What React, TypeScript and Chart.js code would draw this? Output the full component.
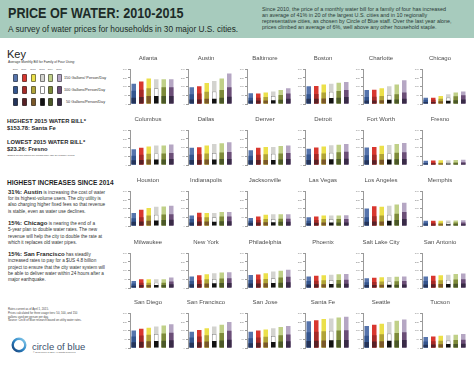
import React, { useEffect, useRef } from 'react';
import { Chart, registerables } from 'chart.js';
Chart.register(...registerables);

const FONT = '"Liberation Sans", Arial, Helvetica, sans-serif';

const YEARS = ['2010', '2011', '2012', '2013', '2014', '2015'];
const Y_TICKS = [0, 75, 150, 225, 300];

const CITIES = [
  'Atlanta', 'Austin', 'Baltimore', 'Boston', 'Charlotte', 'Chicago',
  'Columbus', 'Dallas', 'Denver', 'Detroit', 'Fort Worth', 'Fresno',
  'Houston', 'Indianapolis', 'Jacksonville', 'Las Vegas', 'Los Angeles', 'Memphis',
  'Milwaukee', 'New York', 'Philadelphia', 'Phoenix', 'Salt Lake City', 'San Antonio',
  'San Diego', 'San Francisco', 'San Jose', 'Santa Fe', 'Seattle', 'Tucson',
];

// Monthly bill (USD) at 150 gallons/person/day, 2010..2015
const BILL_150 = [
  [174, 195, 219, 213, 213, 213],
  [144, 153, 180, 198, 219, 264],
  [93, 90, 99, 108, 120, 135],
  [153, 156, 168, 174, 183, 189],
  [120, 123, 135, 153, 168, 204],
  [54, 54, 69, 84, 99, 108],
  [136, 148, 160, 168, 168, 176],
  [148, 152, 168, 180, 188, 196],
  [128, 148, 156, 156, 164, 168],
  [140, 150, 160, 170, 175, 180],
  [150, 155, 165, 172, 180, 190],
  [36, 38, 40, 42, 44, 46],
  [111, 141, 156, 165, 168, 174],
  [90, 114, 111, 111, 120, 120],
  [69, 81, 96, 102, 102, 102],
  [75, 81, 90, 90, 90, 93],
  [150, 171, 165, 174, 186, 201],
  [45, 45, 46, 48, 48, 50],
  [61, 75, 75, 75, 75, 90],
  [99, 110, 119, 128, 133, 136],
  [113, 116, 128, 142, 148, 157],
  [100, 105, 110, 115, 118, 120],
  [85, 88, 92, 95, 98, 100],
  [100, 105, 110, 115, 120, 125],
  [150, 165, 175, 185, 195, 205],
  [140, 155, 170, 185, 200, 225],
  [140, 150, 160, 170, 180, 190],
  [230, 240, 250, 255, 262, 270],
  [190, 200, 210, 225, 235, 245],
  [95, 100, 105, 110, 115, 120],
];

// Monthly bill (USD) at 100 gallons/person/day
const BILL_100 = [
  [114, 123, 135, 135, 144, 144],
  [84, 90, 105, 108, 120, 145],
  [54, 54, 60, 69, 78, 90],
  [84, 87, 99, 105, 111, 120],
  [60, 63, 69, 78, 84, 99],
  [36, 36, 46, 56, 66, 76],
  [80, 88, 96, 100, 100, 104],
  [88, 92, 100, 104, 108, 112],
  [80, 88, 92, 96, 100, 104],
  [90, 95, 100, 106, 110, 114],
  [85, 88, 95, 100, 105, 110],
  [18, 19, 20, 21, 22, 23],
  [66, 75, 90, 96, 99, 102],
  [60, 75, 75, 75, 81, 81],
  [45, 51, 60, 60, 63, 63],
  [45, 51, 60, 60, 60, 60],
  [75, 84, 90, 96, 105, 120],
  [28, 28, 29, 30, 30, 31],
  [38, 46, 46, 46, 46, 55],
  [61, 67, 75, 78, 81, 84],
  [70, 73, 78, 84, 90, 96],
  [60, 63, 66, 69, 70, 72],
  [50, 52, 55, 57, 58, 60],
  [60, 63, 66, 70, 73, 76],
  [100, 108, 115, 120, 126, 132],
  [90, 100, 110, 120, 130, 148],
  [85, 90, 96, 104, 110, 116],
  [135, 140, 145, 148, 151, 154],
  [105, 110, 118, 125, 130, 136],
  [55, 58, 62, 65, 68, 72],
];

// Monthly bill (USD) at 50 gallons/person/day
const BILL_50 = [
  [54, 60, 69, 69, 69, 69],
  [39, 39, 45, 45, 54, 63],
  [30, 30, 30, 33, 36, 45],
  [45, 45, 48, 51, 54, 60],
  [30, 30, 33, 36, 39, 45],
  [18, 18, 23, 28, 33, 38],
  [40, 44, 48, 48, 48, 52],
  [44, 44, 48, 48, 52, 52],
  [40, 44, 44, 44, 48, 52],
  [44, 46, 48, 50, 52, 54],
  [40, 42, 45, 48, 50, 52],
  [12, 12, 13, 13, 14, 14],
  [36, 39, 45, 48, 51, 54],
  [30, 39, 39, 36, 42, 42],
  [27, 30, 33, 33, 36, 36],
  [24, 27, 30, 30, 30, 30],
  [36, 39, 39, 45, 51, 60],
  [14, 14, 15, 15, 15, 16],
  [20, 26, 26, 26, 26, 32],
  [32, 35, 38, 41, 44, 44],
  [38, 38, 41, 44, 46, 49],
  [30, 32, 33, 35, 36, 37],
  [25, 26, 27, 28, 29, 30],
  [30, 32, 34, 35, 37, 38],
  [50, 54, 58, 60, 63, 66],
  [45, 50, 55, 60, 65, 72],
  [42, 45, 48, 52, 55, 58],
  [60, 62, 64, 66, 68, 70],
  [52, 55, 58, 62, 65, 68],
  [28, 30, 32, 34, 35, 37],
];

const COLOR_150 = ['#5674ac', '#d8372f', '#ebe04a', '#d3d3cf', '#c0d088', '#b5a6c3'];
const COLOR_100 = ['#34558e', '#a52a27', '#b0a338', '#ffffff', '#7d8a3a', '#6b4e77'];
const COLOR_50 = ['#25345a', '#582126', '#7a5829', '#121212', '#4b5828', '#392b47'];
const BORDER_100 = ['rgba(0,0,0,0)', 'rgba(0,0,0,0)', 'rgba(0,0,0,0)', '#8a8a8a', 'rgba(0,0,0,0)', 'rgba(0,0,0,0)'];
const BORDER_W_100 = [0, 0, 0, 0.7, 0, 0];

const TIER_LABELS = ['150 Gallons/ Person/Day', '100 Gallons/Person/Day', '50 Gallons/Person/Day'];

const ROW_BOTTOM = [104, 165, 226, 288, 348];
const COL_START = 130;
const COL_STEP = 58.3;

function MiniChart({ idx }: { idx: number }) {
  const ref = useRef<HTMLCanvasElement>(null);
  const c = idx % 6;
  const r = Math.floor(idx / 6);
  const axisX = COL_START + COL_STEP * c;
  const left = Math.round(axisX - 9);
  const top = ROW_BOTTOM[r] - 49;
  useEffect(() => {
    const chart = new Chart(ref.current as HTMLCanvasElement, {
      type: 'bar',
      data: {
        labels: YEARS,
        datasets: [
          { data: BILL_50[idx], backgroundColor: COLOR_50, borderWidth: 0, grouped: false, barPercentage: 0.6, categoryPercentage: 1 } as any,
          { data: BILL_100[idx], backgroundColor: COLOR_100, borderColor: BORDER_100, borderWidth: BORDER_W_100, grouped: false, barPercentage: 0.6, categoryPercentage: 1 } as any,
          { data: BILL_150[idx], backgroundColor: COLOR_150, borderWidth: 0, grouped: false, barPercentage: 0.6, categoryPercentage: 1 } as any,
        ],
      },
      options: {
        animation: false,
        responsive: false,
        devicePixelRatio: 1,
        events: [],
        layout: { padding: { left: 0, right: 6, top: 0, bottom: 0 } },
        plugins: {
          legend: { display: false },
          tooltip: { enabled: false },
          title: {
            display: true,
            text: CITIES[idx],
            color: '#4d4d4d',
            font: { family: FONT, size: 6, weight: 'normal' as any },
            padding: { top: 0, bottom: 7 },
          },
        },
        scales: {
          x: {
            grid: { display: false },
            border: { display: false },
            ticks: { font: { family: FONT, size: 2.3 }, color: '#8a8a8a', padding: 2, maxRotation: 0, autoSkip: false },
            afterFit: (s: any) => { s.height = 6; },
          },
          y: {
            min: 0,
            max: 300,
            afterBuildTicks: (s: any) => { s.ticks = Y_TICKS.map((v) => ({ value: v })); },
            ticks: { font: { family: FONT, size: 2.5 }, color: '#8a8a8a', padding: 1 },
            grid: { drawOnChartArea: false, drawTicks: true, tickLength: 2, color: '#9a9a9a' },
            border: { display: true, color: '#9a9a9a' },
            afterFit: (s: any) => { s.width = 9; },
          },
        },
      },
    });
    return () => chart.destroy();
  }, [idx]);
  return (
    <canvas
      ref={ref}
      width={60}
      height={55}
      style={{ position: 'absolute', left, top, width: 60, height: 55 }}
    />
  );
}

function T(p: { x: number; y: number; size: number; bold?: boolean; color?: string; children: any; lh?: number; style?: any }) {
  const lh = p.lh ?? p.size * 1.25;
  return (
    <div
      style={{
        position: 'absolute',
        left: p.x,
        top: p.y - lh / 2,
        fontSize: p.size,
        lineHeight: lh + 'px',
        fontWeight: p.bold ? 'bold' : 'normal',
        color: p.color ?? '#2b2b2b',
        whiteSpace: 'nowrap',
        fontFamily: FONT,
        ...(p.style || {}),
      }}
    >
      {p.children}
    </div>
  );
}

const HEADER_LINES = [
  'Since 2010, the price of a monthly water bill for a family of four has increased',
  'an average of 41% in 20 of the largest U.S. cities and in 10 regionally',
  'representative cities, as chosen by Circle of Blue staff. Over the last year alone,',
  'prices climbed an average of 6%, well above any other household staple.',
];

const NOTE_LINES = [
  'Rates current as of April 1, 2015.',
  'Prices calculated for three usage tiers: 50, 100, and 150',
  'gallons used per person per day.',
  'Source: Circle of Blue research based on utility water rates.',
];

const KEY_X = [15.7, 24.3, 33.3, 42.3, 50.7, 59.3];
const KEY_ROW_Y = [78, 90, 102];

export default function App() {
  const LH = 6.3;
  const para = (first: number, lines: any[]) =>
    lines.map((l, i) => (
      <T key={first + '-' + i} x={8} y={first + i * LH} size={4.7} color="#333">{l}</T>
    ));
  const tierColors = [COLOR_150, COLOR_100, COLOR_50];
  return (
    <div style={{ position: 'absolute', left: 0, top: 0, width: 474, height: 372, background: '#fff', overflow: 'hidden', fontFamily: FONT }}>
      <div style={{ position: 'absolute', left: 0, top: 0, width: 474, height: 38, background: '#a7cbbd' }} />
      <T x={8} y={13} size={14} bold color="#1d2b28" lh={16} style={{ transform: 'scaleX(0.9)', transformOrigin: 'left center' }}>
        PRICE OF WATER: 2010-2015
      </T>
      <T x={8} y={29} size={8.3} color="#1d2b28" lh={10}>A survey of water prices for households in 30 major U.S. cities.</T>
      {HEADER_LINES.map((l, i) => (
        <T key={'h' + i} x={262} y={9.3 + i * 6} size={5.4} color="#2a3a36" lh={6}>{l}</T>
      ))}

      <T x={7} y={54.5} size={11} color="#222" lh={13}>Key</T>
      <T x={8} y={62} size={3.3} color="#333">Average Monthly Bill for Family of Four Using:</T>
      {YEARS.map((y, i) => (
        <T key={'ky' + i} x={KEY_X[i] - 3} y={69} size={2.3} color="#555">{y}</T>
      ))}
      {tierColors.map((cols, r) =>
        cols.map((col, i) => (
          <div
            key={'sw' + r + '-' + i}
            style={{
              position: 'absolute',
              left: KEY_X[i] - 2.3,
              top: KEY_ROW_Y[r] - 4,
              width: 4.6,
              height: 8,
              background: col,
              boxSizing: 'border-box',
              border: '0.6px solid rgba(60,60,60,0.6)',
              borderRadius: 1,
            }}
          />
        ))
      )}
      {TIER_LABELS.map((l, r) => (
        <T key={'tl' + r} x={r === 2 ? 66 : 64} y={KEY_ROW_Y[r]} size={3.8} color="#333">{l}</T>
      ))}

      <T x={7} y={122} size={5.8} bold color="#1f1f1f">HIGHEST 2015 WATER BILL*</T>
      <T x={7} y={129} size={5.8} bold color="#1f1f1f">$153.78: Santa Fe</T>
      <T x={7} y={143} size={5.8} bold color="#1f1f1f">LOWEST 2015 WATER BILL*</T>
      <T x={7} y={150} size={5.8} bold color="#1f1f1f">$23.26: Fresno</T>
      <T x={7} y={155.5} size={2.5} color="#444">*Based on 100 gallon per person daily use for a family of four</T>

      <T x={7} y={183} size={6.5} bold color="#1f1f1f">HIGHEST INCREASES SINCE 2014</T>
      {para(192.6, [
        <span><b style={{ fontSize: 6, color: '#1f1f1f' }}>31%: Austin</b> is increasing the cost of water</span>,
        'for its highest-volume users. The city utility is',
        'also charging higher fixed fees so that revenue',
        'is stable, even as water use declines.',
      ])}
      {para(224.1, [
        <span><b style={{ fontSize: 6, color: '#1f1f1f' }}>15%: Chicago</b> is nearing the end of a</span>,
        '5-year plan to double water rates. The new',
        'revenue will help the city to double the rate at',
        'which it replaces old water pipes.',
      ])}
      {para(255, [
        <span><b style={{ fontSize: 6, color: '#1f1f1f' }}>15%: San Francisco</b> has steadily</span>,
        'increased rates to pay for a $US 4.8 billion',
        'project to ensure that the city water system will',
        'be able to deliver water within 24 hours after a',
        'major earthquake.',
      ])}

      {NOTE_LINES.map((l, i) => (
        <T key={'n' + i} x={8} y={310 + i * 3.6} size={2.8} color="#444" lh={3.4}>{l}</T>
      ))}

      <svg style={{ position: 'absolute', left: 10, top: 336 }} width={18} height={18}>
        <defs>
          <linearGradient id="cobg" x1="1" y1="0" x2="0" y2="1">
            <stop offset="0" stopColor="#8fd0ee" />
            <stop offset="0.5" stopColor="#2d86c6" />
            <stop offset="1" stopColor="#163f78" />
          </linearGradient>
        </defs>
        <circle cx={9} cy={9} r={6.3} fill="none" stroke="url(#cobg)" strokeWidth={2.4} />
      </svg>
      <T x={32} y={346} size={9.5} color="#3a4f6b" lh={11}>circle of blue</T>
      <T x={33} y={352.5} size={2.3} color="#555" lh={3}>© 2015 Circle of Blue All Rights Reserved</T>

      {CITIES.map((_, i) => (
        <MiniChart key={i} idx={i} />
      ))}
    </div>
  );
}
